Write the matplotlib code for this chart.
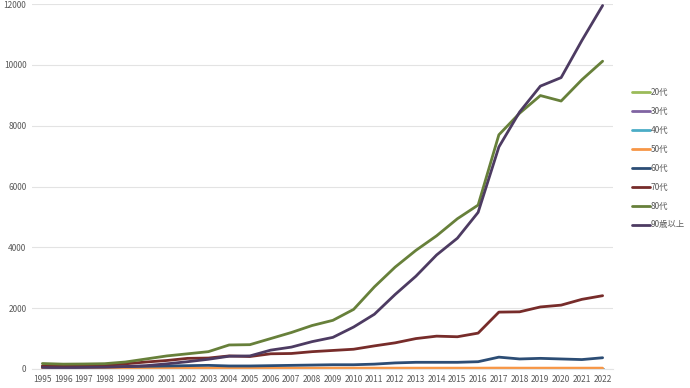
import matplotlib.pyplot as plt

plt.rcParams['font.family'] = ['Noto Sans CJK JP', 'DejaVu Sans']

years = list(range(1995, 2023))

s20 = [3, 3, 3, 3, 3, 3, 3, 3, 3, 3, 3, 3, 3, 3, 3, 3, 3, 3, 3, 3, 3, 3, 3, 3, 3, 3, 3, 3]
s30 = [6, 6, 6, 6, 6, 6, 6, 6, 6, 6, 6, 6, 6, 6, 6, 6, 6, 6, 6, 6, 6, 6, 6, 6, 6, 6, 6, 6]
s40 = [12, 12, 12, 12, 12, 12, 12, 12, 12, 12, 12, 12, 12, 12, 12, 12, 12, 12, 12, 12, 12, 12, 12, 12, 12, 12, 12, 12]
s50 = [30, 28, 28, 28, 28, 28, 28, 28, 28, 28, 28, 28, 28, 28, 28, 28, 28, 28, 28, 28, 28, 28, 30, 28, 28, 28, 28, 28]
s60 = [80, 70, 70, 70, 80, 90, 100, 110, 120, 100, 100, 110, 120, 130, 140, 140,
       160, 200, 220, 220, 220, 240, 390, 330, 350, 330, 310, 370]
s70 = [100, 100, 110, 120, 170, 230, 280, 350, 360, 430, 410, 500, 510, 570, 610, 650,
       760, 860, 1000, 1080, 1060, 1180, 1870, 1880, 2040, 2100, 2290, 2410]
s80 = [180, 160, 165, 175, 230, 330, 430, 500, 570, 790, 800, 1000, 1200, 1430, 1600, 1960,
       2700, 3350, 3900, 4380, 4940, 5390, 7700, 8410, 8990, 8810, 9510, 10120]
s90 = [50, 40, 50, 60, 80, 110, 170, 240, 320, 420, 430, 620, 720, 900, 1040, 1380,
       1800, 2450, 3050, 3750, 4300, 5150, 7300, 8450, 9300, 9580, 10800, 11950]

labels = ['20代', '30代', '40代', '50代', '60代', '70代', '80代', '90歳以上']
colors = ['#9BBB59', '#8064A2', '#4BACC6', '#F79646', '#2C4D75', '#772C2A', '#67803A', '#4D3B62']
series = [s20, s30, s40, s50, s60, s70, s80, s90]

fig = plt.figure(figsize=(6.9, 3.88), dpi=100)
ax = fig.add_axes([32 / 690, 1 - 369 / 388, (613 - 32) / 690, (369 - 4) / 388])

x = range(len(years))
for vals, lab, col in zip(series, labels, colors):
    ax.plot(x, vals, color=col, lw=2.0, label=lab, solid_capstyle='round')

ax.set_xlim(-0.5, len(years) - 0.5)
ax.set_ylim(0, 12000)
ax.set_yticks(range(0, 12001, 2000))
ax.set_xticks(list(x))
ax.set_xticklabels([str(y) for y in years])
ax.grid(axis='y', color='#e3e3e3', lw=0.8)
ax.set_axisbelow(True)
for sp in ['top', 'right', 'left']:
    ax.spines[sp].set_visible(False)
ax.spines['bottom'].set_color('#e3e3e3')
ax.tick_params(axis='both', length=0, labelsize=6, colors='#595959', pad=4)

fig.legend(loc='upper left', bbox_to_anchor=(624 / 690, 1 - 80 / 388), frameon=False,
           fontsize=6, handlelength=2.2, handletextpad=0.1, labelspacing=1.2,
           labelcolor='#595959')

fig.savefig('out.png', dpi=100)
